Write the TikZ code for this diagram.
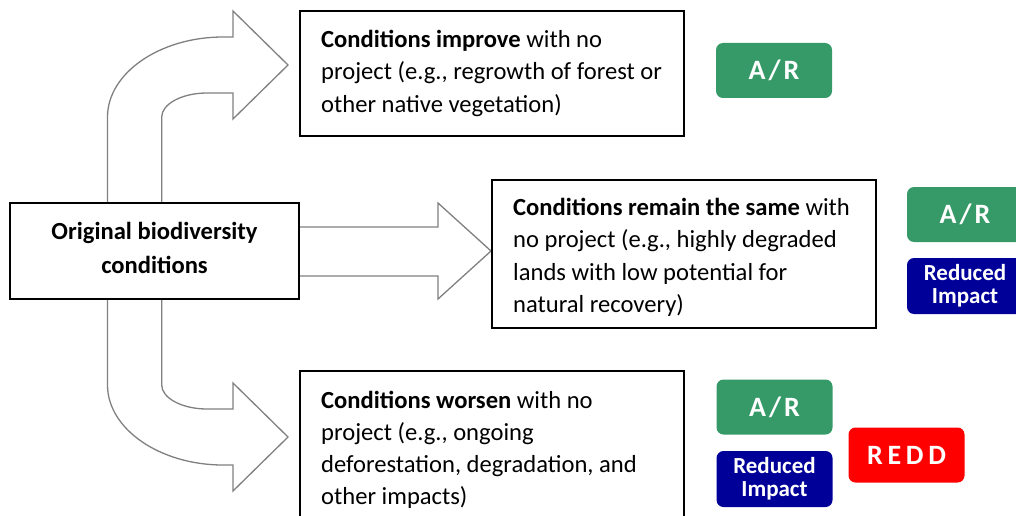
\documentclass[tikz,border=0pt]{standalone}
\usepackage{fontspec}
\setmainfont{Carlito}
\definecolor{argreen}{RGB}{53,153,104}
\definecolor{riblue}{RGB}{0,0,153}
\definecolor{reddred}{RGB}{255,0,0}
\definecolor{arrowgray}{RGB}{128,128,128}
\tikzset{
  bigarrow/.style={draw=arrowgray, line width=1.3pt, fill=white, line join=miter},
  box/.style={draw=black, line width=1.8pt, fill=white, inner sep=0pt},
  boxtext/.style={anchor=north west, inner sep=0pt, align=left, font=\fontsize{24.6}{32.3}\selectfont},
  badge/.style={rounded corners=7pt, inner sep=0pt, minimum width=116pt, text=white},
  badgebig/.style={badge, minimum height=55pt, font=\fontsize{28}{30}\selectfont\bfseries\addfontfeatures{LetterSpace=11}},
  badgesmall/.style={badge, minimum height=56pt, align=center, font=\fontsize{23}{23}\selectfont\bfseries},
}
\begin{document}
\begin{tikzpicture}[x=1pt,y=-1pt]
\useasboundingbox (0,0) rectangle (1016,516);
\clip (0,0) rectangle (1016,516);
% top bent arrow
\draw[bigarrow] (107.5,205) -- (107.5,117)
  .. controls (107.5,73) and (160,37) .. (223,37)
  -- (233,37) -- (233,11) -- (288,65) -- (233,119) -- (233,93) -- (207,93)
  .. controls (182,93) and (161.7,104) .. (161.7,117)
  -- (161.7,205);
% bottom bent arrow
\draw[bigarrow] (107.5,297) -- (107.5,385)
  .. controls (107.5,429) and (160,465) .. (223,465)
  -- (233,465) -- (233,491) -- (288,437) -- (233,383) -- (233,409) -- (207,409)
  .. controls (182,409) and (161.7,398) .. (161.7,385)
  -- (161.7,297);
% middle straight arrow
\draw[bigarrow] (298,227) -- (438,227) -- (438,203) -- (491,251) -- (438,299) -- (438,276) -- (298,276);
% boxes
\node[box, minimum width=289pt, minimum height=96pt] (orig) at (154.5,251) {};
\node[align=center, inner sep=0pt, font=\fontsize{24.6}{34}\selectfont\bfseries] (origtxt) at (154.5,248) {Original biodiversity\\conditions};
\node[box, minimum width=384pt, minimum height=125pt] (c1) at (492,73.5) {};
\node[boxtext] (t1) at (321,30) {\textbf{Conditions improve} with no\\project (e.g., regrowth of forest or\\other native vegetation)};
\node[box, minimum width=384pt, minimum height=148pt] (c2) at (684,254) {};
\node[boxtext] (t2) at (513,198) {\textbf{Conditions remain the same} with\\no project (e.g., highly degraded\\lands with low potential for\\natural recovery)};
\node[box, minimum width=384pt, minimum height=180pt] (c3) at (492,461) {};
\node[boxtext] (t3) at (321,390.5) {\textbf{Conditions worsen} with no\\project (e.g., ongoing\\deforestation, degradation, and\\other impacts)};
% badges
\node[badgebig, fill=argreen] (ar1) at (774,70.5) {A/R};
\node[badgebig, fill=argreen] (ar2) at (965,214.5) {A/R};
\node[badgesmall, fill=riblue] (ri2) at (965,286) {Reduced\\Impact};
\node[badgebig, fill=argreen] (ar3) at (774.5,407) {A/R};
\node[badgesmall, fill=riblue] (ri3) at (774.5,479) {Reduced\\Impact};
\node[badgebig, fill=reddred, font=\fontsize{28}{30}\selectfont\bfseries\addfontfeatures{LetterSpace=17}] (redd) at (906.5,455) {REDD};
\end{tikzpicture}
\end{document}
